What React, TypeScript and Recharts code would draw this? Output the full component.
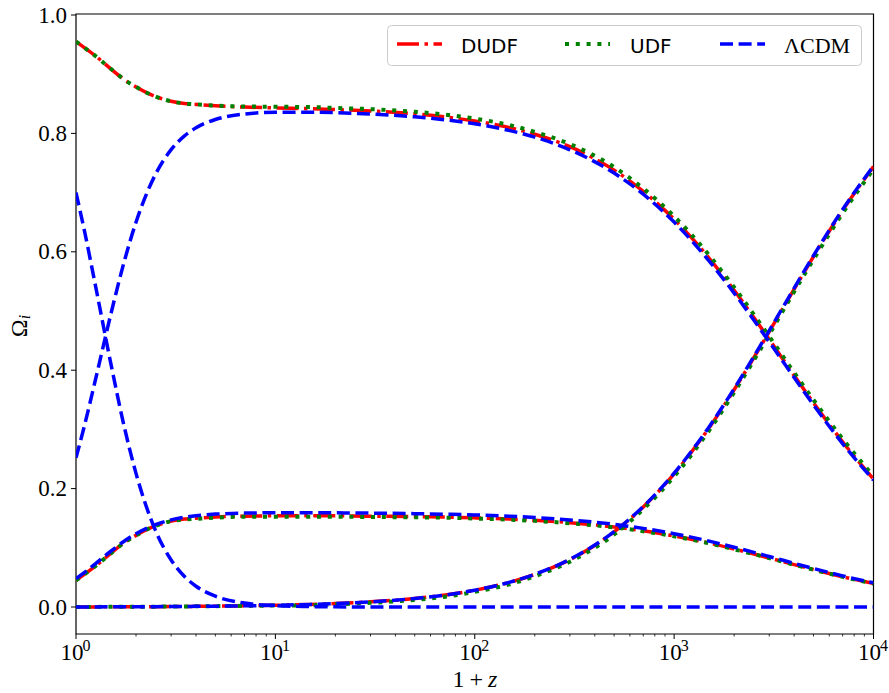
import { LineChart, Line, XAxis, YAxis, ReferenceArea } from 'recharts';

// 1+z sample points
const onePlusZ = [1, 1.1, 1.25, 1.5, 1.75, 2, 2.5, 3, 3.5, 4, 5, 7, 10, 15, 20, 30, 50, 70, 100, 150, 200, 300, 500, 700, 1000, 1500, 2000, 3000, 4000, 5000, 7000, 10000];

// DUDF
const dudfFluid = [0.955, 0.945, 0.931, 0.9087, 0.8906, 0.8785, 0.8624, 0.8542, 0.8505, 0.8489, 0.8466, 0.8445, 0.843, 0.8416, 0.8402, 0.8378, 0.833, 0.828, 0.821, 0.8097, 0.7985, 0.7775, 0.738, 0.702, 0.655, 0.589, 0.535, 0.452, 0.391, 0.345, 0.279, 0.216];
const dudfBaryon = [0.045, 0.055, 0.069, 0.091, 0.109, 0.121, 0.137, 0.145, 0.1485, 0.15, 0.152, 0.1535, 0.154, 0.154, 0.154, 0.1535, 0.1527, 0.152, 0.1506, 0.1485, 0.1465, 0.1425, 0.1352, 0.1287, 0.12, 0.108, 0.098, 0.0828, 0.0716, 0.0632, 0.0512, 0.0397];
const dudfRadiation = [0.0001, 0.0001, 0.0002, 0.0003, 0.0004, 0.0005, 0.0006, 0.0008, 0.001, 0.0011, 0.0014, 0.002, 0.0029, 0.0044, 0.0058, 0.0087, 0.0143, 0.02, 0.0283, 0.0418, 0.055, 0.08, 0.127, 0.169, 0.225, 0.303, 0.367, 0.465, 0.537, 0.592, 0.67, 0.744];

// UDF
const udfFluid = [0.955, 0.945, 0.931, 0.9087, 0.8906, 0.8785, 0.8624, 0.8542, 0.8505, 0.849, 0.847, 0.8455, 0.845, 0.8445, 0.843, 0.841, 0.8365, 0.832, 0.825, 0.814, 0.8025, 0.782, 0.743, 0.707, 0.66, 0.594, 0.54, 0.457, 0.396, 0.35, 0.284, 0.221];
const udfBaryon = [0.045, 0.055, 0.069, 0.091, 0.109, 0.121, 0.137, 0.145, 0.148, 0.149, 0.151, 0.1525, 0.1525, 0.1525, 0.1525, 0.152, 0.1515, 0.151, 0.1495, 0.1475, 0.1455, 0.1415, 0.1345, 0.128, 0.1195, 0.1075, 0.0975, 0.0825, 0.0713, 0.063, 0.051, 0.0395];
const udfRadiation = [0.0001, 0.0001, 0.0002, 0.0003, 0.0004, 0.0005, 0.0006, 0.0008, 0.001, 0.0011, 0.0014, 0.002, 0.0025, 0.003, 0.0045, 0.007, 0.012, 0.017, 0.0255, 0.0385, 0.052, 0.0765, 0.1225, 0.165, 0.2205, 0.2985, 0.3625, 0.4605, 0.5327, 0.587, 0.665, 0.7395];

// LambdaCDM
const lcdmMatter = [0.252, 0.305, 0.383, 0.4965, 0.585, 0.65, 0.7304, 0.7726, 0.7959, 0.8095, 0.8235, 0.8327, 0.8356, 0.8357, 0.8351, 0.8327, 0.828, 0.8232, 0.8162, 0.8047, 0.7937, 0.7723, 0.733, 0.6974, 0.6502, 0.5841, 0.5303, 0.4478, 0.3875, 0.3415, 0.276, 0.2143];
const lcdmLambda = [0.7, 0.637, 0.544, 0.409, 0.303, 0.2257, 0.1298, 0.0795, 0.0516, 0.0351, 0.0183, 0.0067, 0.0023, 0.0007, 0.0003, 0.0001, 0, 0, 0, 0, 0, 0, 0, 0, 0, 0, 0, 0, 0, 0, 0, 0];
const lcdmBaryon = [0.048, 0.058, 0.073, 0.0946, 0.1115, 0.1238, 0.1391, 0.1472, 0.1516, 0.1542, 0.1569, 0.1586, 0.1592, 0.1592, 0.1591, 0.1586, 0.1577, 0.1568, 0.1555, 0.1533, 0.1512, 0.1471, 0.1396, 0.1328, 0.1238, 0.1113, 0.101, 0.0853, 0.0738, 0.065, 0.0526, 0.0408];
const lcdmRadiation = [0.0001, 0.0001, 0.0002, 0.0003, 0.0004, 0.0005, 0.0006, 0.0008, 0.001, 0.0011, 0.0014, 0.002, 0.0029, 0.0044, 0.0058, 0.0087, 0.0144, 0.02, 0.0284, 0.042, 0.0552, 0.0805, 0.1274, 0.1697, 0.226, 0.3046, 0.3687, 0.467, 0.5387, 0.5935, 0.6715, 0.7449];

const xMajor = [1, 10, 100, 1000, 10000];
const yTicks = [0, 0.2, 0.4, 0.6, 0.8, 1.0];

// major decades plus the 2..9 minor ticks of a log axis
const xTicks: number[] = [];
for (let d = 0; d < 4; d++) {
    for (let k = 1; k < 10; k++) xTicks.push(k * Math.pow(10, d));
}
xTicks.push(10000);

const data: any[] = onePlusZ.map((x, i) => ({
    x,
    dF: dudfFluid[i], dB: dudfBaryon[i], dR: dudfRadiation[i],
    uF: udfFluid[i], uB: udfBaryon[i], uR: udfRadiation[i],
    lM: lcdmMatter[i], lL: lcdmLambda[i], lB: lcdmBaryon[i], lR: lcdmRadiation[i],
}));

const serif = '"Liberation Serif", serif';
const sans = '"DejaVu Sans", sans-serif';

const RED = '#ff0000';
const GREEN = '#008000';
const BLUE = '#0000ff';
const LW = 3.5;
const DASHDOT = '22 5.5 3.5 5.5';
const DOTTED = '4 6.8';
const DASHED = '13 5.6';

const XTick = (props: any) => {
    const { x, y, payload } = props;
    const v = payload.value;
    const exp = Math.round(Math.log10(v));
    const major = xMajor.indexOf(v) >= 0;
    if (!major) {
        return <line x1={x} x2={x} y1={y} y2={y + 2.5} stroke="#000" strokeWidth={0.8} />;
    }
    return <g>
        <line x1={x} x2={x} y1={y} y2={y + 5} stroke="#000" strokeWidth={1} />
        <text x={x - 4} y={y + 26} textAnchor="middle" fontFamily={serif} fontSize={23} fill="#000">10</text>
        <text x={x + 10.5} y={y + 17} textAnchor="middle" fontFamily={serif} fontSize={16} fill="#000">{exp}</text>
    </g>;
};

const YTick = (props: any) => {
    const { x, y, payload } = props;
    return <g>
        <line x1={x - 5} x2={x} y1={y} y2={y} stroke="#000" strokeWidth={1} />
        <text x={x - 9} y={y + 7.5} textAnchor="end" fontFamily={serif} fontSize={23} fill="#000">{payload.value.toFixed(1)}</text>
    </g>;
};

const Legend = () => (
    <svg width={889} height={693} style={{ position: 'absolute', left: 0, top: 0, pointerEvents: 'none' }}>
        <rect x={387.5} y={25.5} width={474} height={40} rx={4} fill="#fff" fillOpacity={0.8} stroke="#cccccc" />
        <line x1={397} x2={442} y1={44} y2={44} stroke={RED} strokeWidth={LW} strokeDasharray={DASHDOT} />
        <text x={461} y={53} fontFamily={sans} fontSize={20} fill="#000">DUDF</text>
        <line x1={565} x2={610} y1={44} y2={44} stroke={GREEN} strokeWidth={4} strokeDasharray={DOTTED} />
        <text x={630} y={53} fontFamily={sans} fontSize={20} fill="#000">UDF</text>
        <line x1={720} x2={765} y1={44} y2={44} stroke={BLUE} strokeWidth={LW} strokeDasharray={DASHED} />
        <text x={784} y={53} fontFamily={serif} fontSize={22} fill="#000">ΛCDM</text>
    </svg>
);

const App = () => {
    return <div style={{ position: 'absolute', left: 0, top: 0, width: 889, height: 693, background: '#fff' }}>
        <LineChart width={889} height={693} data={data} margin={{ top: 14, right: 15.5, bottom: 0, left: 0 }}>
            <XAxis dataKey="x" type="number" scale="log" domain={[1, 10000]} allowDataOverflow
                ticks={xTicks} interval={0} tick={<XTick />} tickSize={0} tickMargin={0}
                axisLine={false} tickLine={false} height={59} />
            <YAxis type="number" domain={[-0.0456, 1.0017]} allowDataOverflow ticks={yTicks} interval={0}
                tick={<YTick />} tickSize={0} tickMargin={0} axisLine={false} tickLine={false} width={76} />
            <Line dataKey="dF" type="monotone" stroke={RED} strokeWidth={LW} strokeDasharray={DASHDOT} dot={false} isAnimationActive={false} />
            <Line dataKey="dB" type="monotone" stroke={RED} strokeWidth={LW} strokeDasharray={DASHDOT} dot={false} isAnimationActive={false} />
            <Line dataKey="dR" type="monotone" stroke={RED} strokeWidth={LW} strokeDasharray={DASHDOT} dot={false} isAnimationActive={false} />
            <Line dataKey="uF" type="monotone" stroke={GREEN} strokeWidth={4} strokeDasharray={DOTTED} dot={false} isAnimationActive={false} />
            <Line dataKey="uB" type="monotone" stroke={GREEN} strokeWidth={4} strokeDasharray={DOTTED} dot={false} isAnimationActive={false} />
            <Line dataKey="uR" type="monotone" stroke={GREEN} strokeWidth={4} strokeDasharray={DOTTED} dot={false} isAnimationActive={false} />
            <Line dataKey="lM" type="monotone" stroke={BLUE} strokeWidth={LW} strokeDasharray={DASHED} dot={false} isAnimationActive={false} />
            <Line dataKey="lL" type="monotone" stroke={BLUE} strokeWidth={LW} strokeDasharray={DASHED} dot={false} isAnimationActive={false} />
            <Line dataKey="lB" type="monotone" stroke={BLUE} strokeWidth={LW} strokeDasharray={DASHED} dot={false} isAnimationActive={false} />
            <Line dataKey="lR" type="monotone" stroke={BLUE} strokeWidth={LW} strokeDasharray={DASHED} dot={false} isAnimationActive={false} />
            <ReferenceArea x1={1} x2={10000} y1={-0.0456} y2={1.0017} fill="none" fillOpacity={0} stroke="#000" strokeWidth={1.2} />
        </LineChart>
        <Legend />
        <svg width={889} height={693} style={{ position: 'absolute', left: 0, top: 0, pointerEvents: 'none' }}>
            <text x={475} y={687} textAnchor="middle" fontFamily={serif} fontSize={24} fill="#000">
                1<tspan dx={5}>+</tspan><tspan dx={5} fontStyle="italic">z</tspan>
            </text>
            <text transform="translate(27, 326) rotate(-90)" textAnchor="middle" fontFamily={serif} fontSize={24} fill="#000">
                Ω<tspan fontStyle="italic" fontSize={16} dy={3}>i</tspan>
            </text>
        </svg>
    </div>;
};

export default App;
